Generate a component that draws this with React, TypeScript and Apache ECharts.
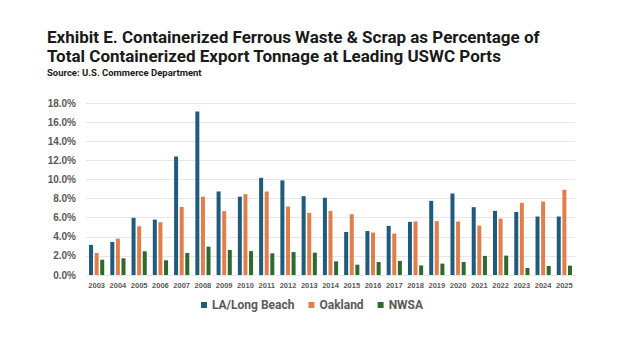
import React, { useEffect, useRef } from "react";
import * as echarts from "echarts";

const years = ["2003","2004","2005","2006","2007","2008","2009","2010","2011","2012","2013","2014","2015","2016","2017","2018","2019","2020","2021","2022","2023","2024","2025"];
const laLongBeach = [3.15,3.46,5.98,5.8,12.4,17.1,8.74,8.2,10.17,9.9,8.25,8.08,4.5,4.6,5.14,5.56,7.76,8.53,7.1,6.71,6.6,6.12,6.12];
const oakland = [2.3,3.8,5.1,5.52,7.13,8.2,6.68,8.46,8.74,7.17,6.5,6.71,6.36,4.44,4.34,5.6,5.63,5.6,5.17,5.9,7.55,7.69,8.92];
const nwsa = [1.6,1.75,2.48,1.54,2.3,2.97,2.62,2.5,2.27,2.4,2.34,1.43,1.08,1.36,1.47,1.0,1.19,1.36,2.0,2.03,0.73,0.94,0.98];

const titleLines = [
  "Exhibit E. Containerized Ferrous Waste & Scrap as Percentage of",
  "Total Containerized Export Tonnage at Leading USWC Ports",
];
const sourceText = "Source: U.S. Commerce Department";

const FONT = "Roboto, 'Liberation Sans', sans-serif";
const AXFONT = "'Liberation Sans', 'Arial', sans-serif";

export default function App() {
  const ref = useRef<HTMLDivElement>(null);
  useEffect(() => {
    const chart = echarts.init(ref.current!, null, { renderer: "svg" });
    const bar = (name: string, data: number[], color: string) => ({
      name, type: "bar", data, barWidth: 4, barGap: "40%",
      itemStyle: { color },
    });
    const titleText = (text: string, y: number, size: number) => ({
      type: "text", x: 47, y,
      style: { text, fontFamily: FONT, fontWeight: "bold", fontSize: size, fill: "#1a1a1a", verticalAlign: "middle", align: "left" },
    });
    chart.setOption({
      animation: false,
      backgroundColor: "#ffffff",
      graphic: [
        titleText(titleLines[0], 37, 17),
        titleText(titleLines[1], 56, 17),
        titleText(sourceText, 72, 9.5),
      ],
      legend: {
        bottom: 35, left: "center",
        itemWidth: 6, itemHeight: 6, itemGap: 14,
        icon: "rect",
        textStyle: { fontFamily: FONT, fontWeight: "bold", fontSize: 12, color: "#595959" },
        data: ["LA/Long Beach", "Oakland", "NWSA"],
      },
      grid: { left: 86, right: 49, top: 103, bottom: 76, containLabel: false },
      xAxis: {
        type: "category", data: years,
        axisLine: { show: false }, axisTick: { show: false },
        axisLabel: { fontFamily: AXFONT, fontWeight: "bold", fontSize: 7.5, color: "#595959", margin: 6, interval: 0 },
      },
      yAxis: {
        type: "value", min: 0, max: 18, interval: 2,
        axisLine: { show: false }, axisTick: { show: false },
        splitLine: { lineStyle: { color: "#e6e6e6", width: 1 } },
        axisLabel: { fontFamily: AXFONT, fontWeight: "bold", fontSize: 10, color: "#595959", margin: 10, formatter: (v: number) => v.toFixed(1) + "%" },
      },
      series: [
        bar("LA/Long Beach", laLongBeach, "#1f5b7c"),
        bar("Oakland", oakland, "#e07f4b"),
        bar("NWSA", nwsa, "#2e6a2e"),
      ],
    });
    return () => chart.dispose();
  }, []);
  return <div ref={ref} style={{ width: 624, height: 351, position: "absolute", left: 0, top: 0 }} />;
}
